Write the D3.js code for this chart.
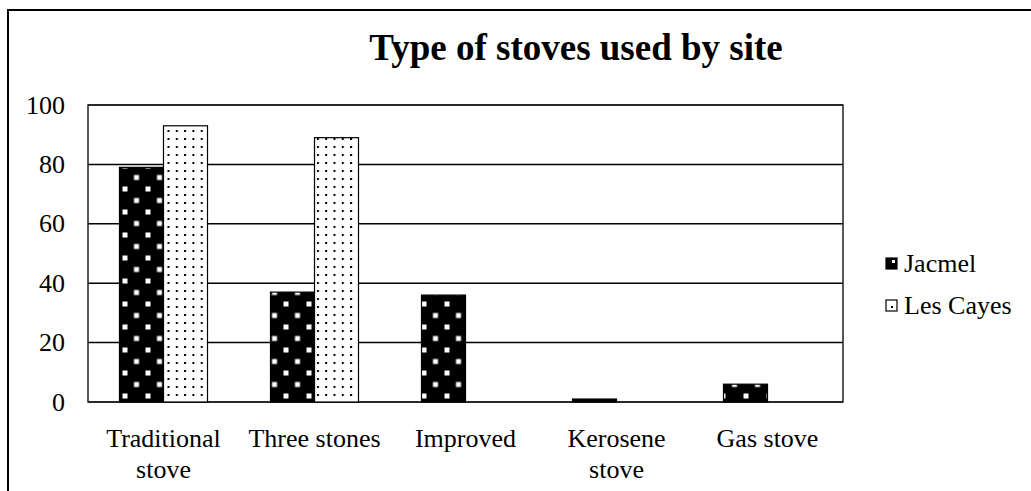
<!DOCTYPE html>
<html>
<head>
<meta charset="utf-8">
<script src="https://cdn.jsdelivr.net/npm/d3@7"></script>
<style>
  body { margin: 0; background: #fff; }
  text { font-family: 'Liberation Serif', 'Times New Roman', serif; fill: #000; }
</style>
</head>
<body>
<div id="chart"></div>
<script>
// chart data
const categories = [['Traditional', 'stove'], ['Three stones'], ['Improved'], ['Kerosene', 'stove'], ['Gas stove']]
const seriesNames = ['Jacmel', 'Les Cayes']
const jacmel = [79, 37, 36, 1, 6]
const lesCayes = [93, 89, 0, 0, 0]
const yTicks = [0, 20, 40, 60, 80, 100]

const W = 1031
const H = 491
const plot = { left: 88, top: 105, right: 843, bottom: 402 }

const svg = d3.select('#chart')
  .append('svg')
  .attr('width', W)
  .attr('height', H)

// patterns
const defs = svg.append('defs')
const pj = defs.append('pattern')
  .attr('id', 'pat-jacmel')
  .attr('patternUnits', 'userSpaceOnUse')
  .attr('x', 122.5).attr('y', 198.5)
  .attr('width', 23).attr('height', 23)
pj.append('rect').attr('width', 23).attr('height', 23).attr('fill', '#000')
pj.append('rect').attr('x', 0).attr('y', 11).attr('width', 5).attr('height', 5).attr('fill', '#fff')
pj.append('rect').attr('x', 11.5).attr('y', 22.5 - 23).attr('width', 5).attr('height', 5).attr('fill', '#fff')
pj.append('rect').attr('x', 11.5).attr('y', 22.5).attr('width', 5).attr('height', 5).attr('fill', '#fff')

const pl = defs.append('pattern')
  .attr('id', 'pat-cayes')
  .attr('patternUnits', 'userSpaceOnUse')
  .attr('x', 167.5).attr('y', 202)
  .attr('width', 8.3).attr('height', 8)
pl.append('rect').attr('width', 8.3).attr('height', 8).attr('fill', '#fff')
pl.append('rect').attr('width', 2).attr('height', 2).attr('fill', '#000')

// outer frame (runs off the picture on the right and bottom)
svg.append('rect')
  .attr('x', 8).attr('y', 10)
  .attr('width', 1100).attr('height', 600)
  .attr('fill', 'none')
  .attr('stroke', '#000')
  .attr('stroke-width', 2)

// scales
const x0 = d3.scaleBand()
  .domain(d3.range(categories.length))
  .range([plot.left, plot.right])

const y = d3.scaleLinear()
  .domain([0, 100])
  .range([plot.bottom, plot.top])

const barW = 44

// gridlines
svg.append('g')
  .selectAll('line')
  .data(yTicks)
  .enter()
  .append('line')
  .attr('x1', plot.left)
  .attr('x2', plot.right)
  .attr('y1', d => y(d))
  .attr('y2', d => y(d))
  .attr('stroke', '#000')
  .attr('stroke-width', 1.5)

// plot area border
svg.append('rect')
  .attr('x', plot.left).attr('y', plot.top)
  .attr('width', plot.right - plot.left)
  .attr('height', plot.bottom - plot.top)
  .attr('fill', 'none')
  .attr('stroke', '#222')
  .attr('stroke-width', 1.5)

// y tick labels
svg.append('g')
  .selectAll('text')
  .data(yTicks)
  .enter()
  .append('text')
  .attr('x', 65)
  .attr('y', d => y(d))
  .attr('dy', '0.33em')
  .attr('text-anchor', 'end')
  .style('font-size', '26px')
  .text(d => d)

// bars
const series = [
  { name: seriesNames[0], values: jacmel, fill: 'url(#pat-jacmel)', off: -barW },
  { name: seriesNames[1], values: lesCayes, fill: 'url(#pat-cayes)', off: 0 }
]

series.forEach(s => {
  svg.append('g')
    .selectAll('rect')
    .data(s.values.map((v, i) => ({ v, i })).filter(d => d.v > 0))
    .enter()
    .append('rect')
    .attr('x', d => x0(d.i) + x0.bandwidth() / 2 + s.off)
    .attr('y', d => y(d.v))
    .attr('width', barW)
    .attr('height', d => y(0) - y(d.v))
    .attr('fill', s.fill)
    .attr('stroke', '#000')
    .attr('stroke-width', 1.2)
})

// x labels
const xl = svg.append('g')
  .selectAll('text')
  .data(categories)
  .enter()
  .append('text')
  .attr('text-anchor', 'middle')
  .style('font-size', '26px')
  .attr('x', (d, i) => x0(i) + x0.bandwidth() / 2)
  .attr('y', 447)

xl.selectAll('tspan')
  .data(d => d)
  .enter()
  .append('tspan')
  .attr('x', function () { return d3.select(this.parentNode).attr('x') })
  .attr('dy', (d, i) => i === 0 ? 0 : 31)
  .text(d => d)

// title
svg.append('text')
  .attr('x', 576)
  .attr('y', 60)
  .attr('text-anchor', 'middle')
  .style('font-size', '37px')
  .style('font-weight', 'bold')
  .text('Type of stoves used by site')

// legend
const legend = svg.append('g')
  .selectAll('g')
  .data(series)
  .enter()
  .append('g')
  .attr('transform', (d, i) => 'translate(886,' + (258 + i * 42) + ')')

legend.append('rect')
  .attr('width', 11).attr('height', 11)
  .attr('fill', (d, i) => i === 0 ? '#000' : '#fff')
  .attr('stroke', '#000')
  .attr('stroke-width', 1.2)
legend.append('rect')
  .attr('x', (d, i) => i === 0 ? 6 : 5)
  .attr('y', (d, i) => i === 0 ? 2 : 6)
  .attr('width', (d, i) => i === 0 ? 3 : 2)
  .attr('height', (d, i) => i === 0 ? 3 : 2)
  .attr('fill', (d, i) => i === 0 ? '#fff' : '#000')
legend.append('text')
  .attr('x', 18)
  .attr('y', 14)
  .style('font-size', '26px')
  .text(d => d.name)
</script>
</body>
</html>
